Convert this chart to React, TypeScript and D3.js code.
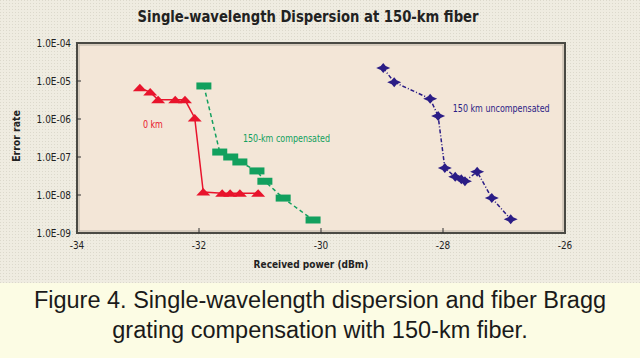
import { useEffect, useRef } from "react";
import * as d3 from "d3";

// power (dBm) and bit error rate
const zeroKmPower = [-32.97, -32.8, -32.67, -32.39, -32.23, -32.07, -31.93, -31.62, -31.49, -31.33, -31.03];
const zeroKmBer = [6.6e-6, 5.1e-6, 3.2e-6, 3.2e-6, 3.2e-6, 1.07e-6, 1.2e-8, 1.12e-8, 1.12e-8, 1.12e-8, 1.12e-8];

const compPower = [-31.92, -31.66, -31.48, -31.33, -31.05, -30.92, -30.62, -30.13];
const compBer = [7.4e-6, 1.35e-7, 1.0e-7, 7.4e-8, 4.3e-8, 2.3e-8, 8.3e-9, 2.2e-9];

const uncompPower = [-28.98, -28.8, -28.21, -28.08, -27.97, -27.8, -27.7, -27.64, -27.44, -27.2, -26.89];
const uncompBer = [2.2e-5, 9.3e-6, 3.4e-6, 1.2e-6, 5.1e-8, 3.0e-8, 2.6e-8, 2.3e-8, 4.1e-8, 8.3e-9, 2.3e-9];

const xTicks = [-34, -32, -30, -28, -26];
const yTicks = [1e-4, 1e-5, 1e-6, 1e-7, 1e-8, 1e-9];

const TITLE = "Single-wavelength Dispersion at 150-km fiber";
const CAPTION = [
  "Figure 4. Single-wavelength dispersion and fiber Bragg",
  "grating compensation with 150-km fiber.",
];

const FONT = "'DejaVu Sans', sans-serif";

const SHAPES = {
  triangle: "M-7,3.5L0,-4L7,3.5Z",
  square: "M-7.5,-3.5H7.5V3.5H-7.5Z",
  star: "M0,-5L2.5,-2L7,0L2.5,2L0,5L-2.5,2L-7,0L-2.5,-2Z",
};

type Sel = d3.Selection<SVGSVGElement, unknown, null, undefined>;

// squeezed text, the original uses a narrow face
function narrowText(svg: Sel, tx: number, ty: number, sx: number, text: string) {
  return svg
    .append("text")
    .attr("transform", `translate(${tx},${ty}) scale(${sx},1)`)
    .attr("font-family", FONT)
    .text(text);
}

export default function App() {
  const ref = useRef<SVGSVGElement | null>(null);

  useEffect(() => {
    if (!ref.current) return;
    const width = 640;
    const height = 358;
    const svg = d3.select(ref.current) as Sel;
    svg.selectAll("*").remove();

    const x = d3.scaleLinear().domain([-34, -26]).range([77, 565]);
    const y = d3.scaleLog().domain([1e-4, 1e-9]).range([43, 233]);

    const defs = svg.append("defs");
    const pat = defs
      .append("pattern")
      .attr("id", "dots")
      .attr("width", 3)
      .attr("height", 3)
      .attr("patternUnits", "userSpaceOnUse");
    pat.append("rect").attr("width", 3).attr("height", 3).attr("fill", "#efece1");
    pat.append("rect").attr("width", 1).attr("height", 1).attr("fill", "#dcd9cc");

    svg.append("rect").attr("width", width).attr("height", 283).attr("fill", "url(#dots)");
    svg.append("rect").attr("y", 283).attr("width", width).attr("height", height - 283).attr("fill", "#fcfce4");

    narrowText(svg, 308, 22, 0.88, TITLE)
      .attr("text-anchor", "middle")
      .attr("font-weight", "bold")
      .attr("font-size", 15)
      .attr("fill", "#222");

    // plot frame
    const [x0, x1] = x.range();
    const [y0, y1] = y.range();
    svg
      .append("rect")
      .attr("x", x0)
      .attr("y", y0)
      .attr("width", x1 - x0)
      .attr("height", y1 - y0)
      .attr("fill", "#f3e6d7")
      .attr("stroke", "#4a4a44")
      .attr("stroke-width", 2);
    svg
      .append("rect")
      .attr("x", x0 + 2)
      .attr("y", y0 + 2)
      .attr("width", x1 - x0 - 4)
      .attr("height", y1 - y0 - 4)
      .attr("fill", "none")
      .attr("stroke", "#b8b0a4")
      .attr("stroke-width", 1);

    // ticks
    svg
      .append("g")
      .selectAll("line")
      .data(yTicks.slice(1, -1))
      .join("line")
      .attr("x1", x0)
      .attr("x2", x0 + 4)
      .attr("y1", (d) => y(d))
      .attr("y2", (d) => y(d))
      .attr("stroke", "#333");
    svg
      .append("g")
      .selectAll("line")
      .data(xTicks.slice(1, -1))
      .join("line")
      .attr("x1", (d) => x(d))
      .attr("x2", (d) => x(d))
      .attr("y1", y1)
      .attr("y2", y1 - 5)
      .attr("stroke", "#333");

    for (const t of yTicks) {
      narrowText(svg, 71, y(t) + 3.5, 0.85, "1.0E-" + String(-Math.round(Math.log10(t))).padStart(2, "0"))
        .attr("text-anchor", "end")
        .attr("font-size", 10.5)
        .attr("fill", "#222");
    }
    for (const t of xTicks) {
      narrowText(svg, x(t), 249, 0.85, String(t))
        .attr("text-anchor", "middle")
        .attr("font-size", 10.5)
        .attr("fill", "#222");
    }

    narrowText(svg, 311, 268, 0.82, "Received power (dBm)")
      .attr("text-anchor", "middle")
      .attr("font-weight", "bold")
      .attr("font-size", 11)
      .attr("fill", "#222");

    svg
      .append("text")
      .attr("transform", "translate(20,136) rotate(-90) scale(0.85,1)")
      .attr("text-anchor", "middle")
      .attr("font-family", FONT)
      .attr("font-weight", "bold")
      .attr("font-size", 11)
      .attr("fill", "#222")
      .text("Error rate");

    const series = [
      { px: zeroKmPower, ber: zeroKmBer, color: "#e8142c", shape: SHAPES.triangle, dash: null, label: "0 km", lx: -32.92, ly: 5.7e-7 },
      { px: compPower, ber: compBer, color: "#12a05e", shape: SHAPES.square, dash: "4,3", label: "150-km compensated", lx: -31.28, ly: 2.5e-7 },
      { px: uncompPower, ber: uncompBer, color: "#2b1d86", shape: SHAPES.star, dash: "4,2,1,2", label: "150 km uncompensated", lx: -27.84, ly: 1.5e-6 },
    ];

    const line = d3
      .line<[number, number]>()
      .x((d) => x(d[0]))
      .y((d) => y(d[1]));

    for (const s of series) {
      const pts = s.px.map((p, i) => [p, s.ber[i]] as [number, number]);
      svg
        .append("path")
        .attr("d", line(pts))
        .attr("fill", "none")
        .attr("stroke", s.color)
        .attr("stroke-width", 1.5)
        .attr("stroke-dasharray", s.dash);
      svg
        .append("g")
        .selectAll("path")
        .data(pts)
        .join("path")
        .attr("transform", (d) => `translate(${x(d[0])},${y(d[1])})`)
        .attr("d", s.shape)
        .attr("fill", s.color);
      narrowText(svg, x(s.lx), y(s.ly), 0.76, s.label)
        .attr("font-size", 10.5)
        .attr("fill", s.color);
    }

    svg
      .append("g")
      .selectAll("text")
      .data(CAPTION)
      .join("text")
      .attr("x", 320)
      .attr("y", (_, i) => 308 + i * 30)
      .attr("text-anchor", "middle")
      .attr("font-family", "'Liberation Sans', Arial, sans-serif")
      .attr("font-size", 23.5)
      .attr("fill", "#1a1a1a")
      .text((d) => d);
  }, []);

  return (
    <svg
      ref={ref}
      width={640}
      height={358}
      style={{ position: "absolute", left: 0, top: 0, display: "block" }}
    />
  );
}
